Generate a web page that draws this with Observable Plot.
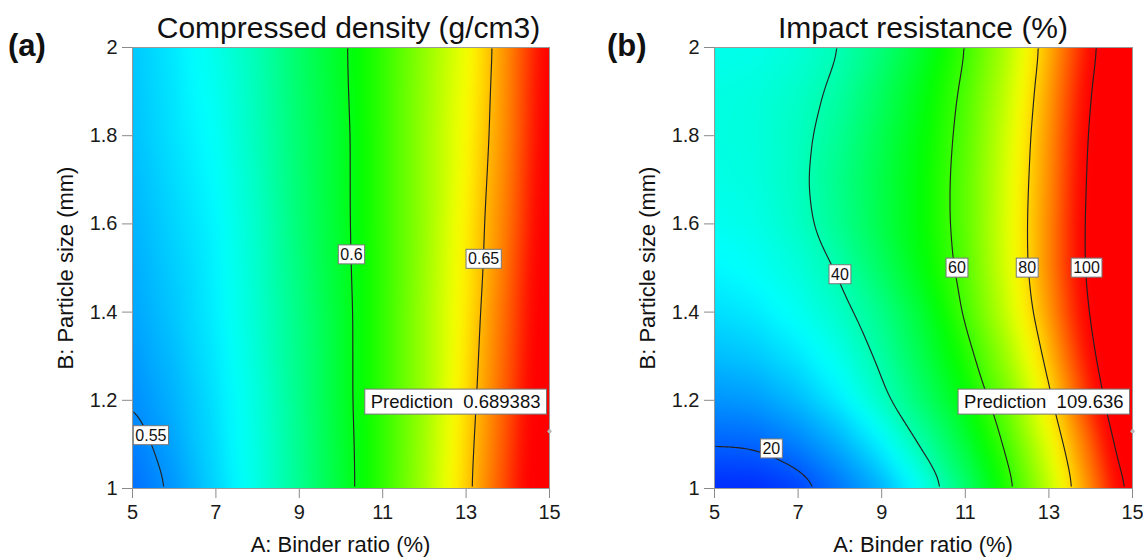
<!DOCTYPE html>
<html>
<head>
<meta charset="utf-8">
<script src="https://cdn.jsdelivr.net/npm/d3@7"></script>
<script src="https://cdn.jsdelivr.net/npm/@observablehq/plot@0.6"></script>
<style>
  body { margin: 0; background: #fff; font-family: "Liberation Sans", Arial, sans-serif; }
  #wrap { position: relative; width: 1143px; height: 558px; overflow: hidden; }
  .panel { position: absolute; top: 0; width: 572px; height: 558px; }
  .panel svg { position: absolute; left: 0; top: 0; }
  .title { position: absolute; font-size: 30px; line-height: 1; color: #111; white-space: nowrap; transform: translateX(-50%); }
  .tag { position: absolute; font-size: 31px; line-height: 1; font-weight: bold; color: #111; }
  .xlab { position: absolute; font-size: 22px; line-height: 1; color: #111; white-space: nowrap; transform: translateX(-50%); }
  .ylab { position: absolute; font-size: 22px; line-height: 1; color: #111; white-space: nowrap; transform: translate(-50%, -50%) rotate(-90deg); }
  svg [aria-label="x-axis tick"] path, svg [aria-label="y-axis tick"] path { stroke: #8a8a8a; }
</style>
</head>
<body>
<div id="wrap"></div>
<script>
// Factor levels of the response-surface plots
const binderRatio = [5, 6, 7, 8, 9, 10, 11, 12, 13, 14, 15];   // A: Binder ratio (%)
const xTicks = [5, 7, 9, 11, 13, 15];
const yTicks = [1, 1.2, 1.4, 1.6, 1.8, 2];

// (a) Compressed density (g/cm3): rows = particle size, columns = binder ratio
const densitySize = [1.0, 1.2, 1.4, 1.6, 1.8, 2.0];
const densityGrid = [
  [0.545, 0.551, 0.560, 0.570, 0.582, 0.595, 0.610, 0.627, 0.647, 0.668, 0.690],
  [0.5495, 0.555, 0.562, 0.571, 0.583, 0.596, 0.610, 0.626, 0.645, 0.665, 0.688],
  [0.553, 0.558, 0.564, 0.573, 0.584, 0.596, 0.610, 0.626, 0.643, 0.663, 0.686],
  [0.555, 0.560, 0.565, 0.574, 0.586, 0.597, 0.610, 0.625, 0.642, 0.660, 0.684],
  [0.557, 0.562, 0.567, 0.576, 0.587, 0.597, 0.610, 0.625, 0.640, 0.658, 0.682],
  [0.558, 0.563, 0.569, 0.577, 0.588, 0.598, 0.610, 0.624, 0.638, 0.657, 0.680]
];
const densityLevels = [0.55, 0.6, 0.65];
const densityLabelA = [5.44, 10.25, 13.42];
const densityLabelB = [1.12, 1.53, 1.52];
const densityColorRange = [0.529, 0.677];
const densityPrediction = "0.689383";

// (b) Impact resistance (%): rows = particle size, columns = binder ratio
const impactSize = [1.0, 1.1, 1.2, 1.3, 1.4, 1.5, 1.6, 1.7, 1.8, 1.9, 2.0];
const impactGrid = [
  [15.5, 15.6, 17.5, 21.8, 27.0, 35.0, 45.5, 57.5, 71.0, 86.5, 104.0],
  [20.2, 20.5, 22.8, 26.8, 32.5, 41.0, 50.0, 61.0, 74.5, 90.0, 108.0],
  [24.5, 25.2, 27.8, 32.0, 38.5, 46.0, 54.2, 64.5, 78.5, 94.5, 112.0],
  [28.0, 29.0, 31.5, 35.3, 41.2, 48.8, 57.5, 68.5, 82.0, 98.0, 114.5],
  [30.8, 32.0, 34.5, 38.2, 43.5, 51.0, 60.8, 72.0, 85.0, 100.5, 117.0],
  [33.0, 34.2, 36.5, 40.5, 46.8, 54.0, 62.2, 73.5, 86.5, 102.0, 118.5],
  [34.6, 35.5, 38.3, 43.0, 48.8, 55.0, 62.8, 73.8, 86.5, 102.0, 118.5],
  [35.6, 36.3, 38.8, 43.5, 49.0, 55.0, 62.8, 73.5, 86.0, 101.5, 118.0],
  [36.0, 36.5, 38.6, 42.6, 48.3, 54.5, 62.2, 72.8, 85.5, 100.8, 117.0],
  [35.9, 36.4, 38.0, 41.3, 47.0, 53.5, 61.3, 71.5, 84.5, 99.5, 115.5],
  [35.0, 35.3, 36.8, 39.8, 44.8, 51.5, 59.8, 70.0, 83.0, 97.5, 113.0]
];
const impactLevels = [20, 40, 60, 80, 100];
const impactLabelA = [6.36, 8.0, 10.8, 12.48, 13.9];
const impactLabelB = [1.09, 1.485, 1.5, 1.5, 1.5];
const impactColorRange = [12, 98];
const impactPrediction = "109.636";

// Prediction flag location (A, B)
const predictionA = 15;
const predictionB = 1.13;

const rainbow = d3.piecewise(d3.interpolateRgb, ["#0000ff", "#00ffff", "#00ff00", "#ffff00", "#ff0000"]);
const fmt = d => `${d}`;
const FONT = "'Liberation Sans', Arial, sans-serif";
const HEIGHT = 558, MT = 47, MB = 70;

// white, grey-edged boxes behind every text of an svg layer
function boxTexts(svg, padX, padY) {
  svg.querySelectorAll("text").forEach(t => {
    const bb = t.getBBox();
    const r = document.createElementNS("http://www.w3.org/2000/svg", "rect");
    r.setAttribute("x", bb.x - padX);
    r.setAttribute("y", bb.y - padY);
    r.setAttribute("width", bb.width + 2 * padX);
    r.setAttribute("height", bb.height + 2 * padY);
    r.setAttribute("style", "fill:#fff;stroke:#777;stroke-width:1");
    if (t.hasAttribute("transform")) r.setAttribute("transform", t.getAttribute("transform"));
    t.parentNode.insertBefore(r, t);
  });
}

function base(o, extra) {
  return Object.assign({
    width: o.width,
    height: HEIGHT,
    marginLeft: o.marginLeft,
    marginRight: o.marginRight,
    marginTop: MT,
    marginBottom: MB,
    style: {fontFamily: FONT, fontSize: "20px", color: "#1a1a1a", background: "transparent", overflow: "visible"},
    x: {domain: [5, 15], ticks: xTicks, tickFormat: fmt, tickSize: 10, tickPadding: 6, label: null},
    y: {domain: [1, 2], ticks: yTicks, tickFormat: fmt, tickSize: 10, tickPadding: 5, label: null},
    color: {type: "linear", domain: o.colorRange, interpolate: rainbow, clamp: true}
  }, extra);
}

function addPanel(left, o, title, tag, tagX) {
  const cells = o.sizes.flatMap((b, i) => binderRatio.map((a, j) => ({a, b, v: o.grid[i][j]})));
  const labels = o.levels.map((v, i) => ({a: o.labelA[i], b: o.labelB[i], text: fmt(v)}));
  const flag = [{a: predictionA, b: predictionB, text: `Prediction  ${o.prediction}`}];

  const div = document.createElement("div");
  div.className = "panel";
  div.style.left = left + "px";
  wrap.appendChild(div);

  // colour surface, frame and axes
  const surface = Plot.plot(base(o, {
    marks: [
      Plot.raster(cells, {x: "a", y: "b", fill: "v", interpolate: "barycentric", blur: 6, x1: 5, x2: 15, y1: 1, y2: 2}),
      Plot.frame({stroke: "#999"})
    ]
  }));
  div.appendChild(surface);

  // contour lines, clipped just inside the frame
  const lines = Plot.plot(base(o, {
    x: {domain: [5, 15], axis: null},
    y: {domain: [1, 2], axis: null},
    marks: [
      Plot.contour(cells, {
        x: "a", y: "b", value: "v", thresholds: o.levels, interpolate: "barycentric", blur: 6,
        x1: 5, x2: 15, y1: 1, y2: 2,
        fill: "none", stroke: "#222", strokeWidth: 1.15
      })
    ]
  }));
  lines.style.clipPath = `inset(${MT + 1.5}px ${o.marginRight + 1.5}px ${MB + 1.5}px ${o.marginLeft + 1.5}px)`;
  div.appendChild(lines);

  // contour level labels
  const tags = Plot.plot(base(o, {
    x: {domain: [5, 15], axis: null},
    y: {domain: [1, 2], axis: null},
    marks: [
      Plot.text(labels, {x: "a", y: "b", text: "text", fontSize: 16, fill: "#111"})
    ]
  }));
  div.appendChild(tags);
  boxTexts(tags, 2, 1);

  // prediction flag
  const pred = Plot.plot(base(o, {
    x: {domain: [5, 15], axis: null},
    y: {domain: [1, 2], axis: null},
    marks: [
      Plot.dot(flag, {x: "a", y: "b", r: 2, fill: "#b5b5b5"}),
      Plot.text(flag, {x: "a", y: "b", text: "text", fontSize: 18.5, fill: "#111", textAnchor: "end", dx: -9, dy: -29})
    ]
  }));
  div.appendChild(pred);
  boxTexts(pred, 6, 2);

  const cx = left + o.marginLeft + (o.width - o.marginLeft - o.marginRight) / 2;
  const t = document.createElement("div");
  t.className = "title"; t.textContent = title;
  t.style.left = (cx + o.titleShift) + "px"; t.style.top = "13px";
  wrap.appendChild(t);

  const g = document.createElement("div");
  g.className = "tag"; g.textContent = tag;
  g.style.left = tagX + "px"; g.style.top = "30px";
  wrap.appendChild(g);

  const xl = document.createElement("div");
  xl.className = "xlab"; xl.textContent = "A: Binder ratio (%)";
  xl.style.left = cx + "px"; xl.style.top = "534px";
  wrap.appendChild(xl);

  const yl = document.createElement("div");
  yl.className = "ylab"; yl.textContent = "B: Particle size (mm)";
  yl.style.left = (left + o.marginLeft - 66) + "px"; yl.style.top = "268px";
  wrap.appendChild(yl);
}

const wrap = document.getElementById("wrap");

addPanel(0, {
  width: 572, marginLeft: 132, marginRight: 23, titleShift: 8,
  sizes: densitySize, grid: densityGrid, levels: densityLevels,
  labelA: densityLabelA, labelB: densityLabelB, colorRange: densityColorRange,
  prediction: densityPrediction
}, "Compressed density (g/cm3)", "(a)", 8);

addPanel(571, {
  width: 572, marginLeft: 143, marginRight: 11, titleShift: 0,
  sizes: impactSize, grid: impactGrid, levels: impactLevels,
  labelA: impactLabelA, labelB: impactLabelB, colorRange: impactColorRange,
  prediction: impactPrediction
}, "Impact resistance (%)", "(b)", 607);
</script>
</body>
</html>
